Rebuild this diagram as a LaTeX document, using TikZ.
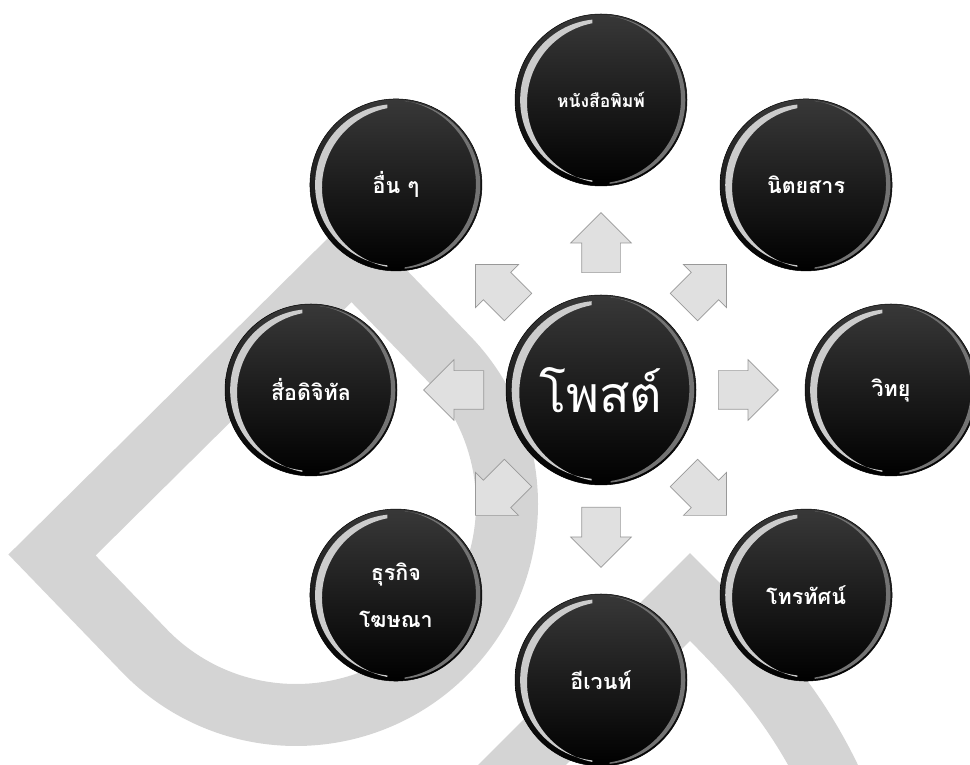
\documentclass[tikz,border=0pt]{standalone}
\usepackage{fontspec}
\newfontfamily\thaifont[Script=Thai]{Loma}
\usetikzlibrary{calc,shapes.arrows}

\begin{document}
\begin{tikzpicture}[x=1pt,y=1pt]

% --------------------
% Parameters (tweak these)
% --------------------
\def\ringR{290}   % distance centre -> outer bubbles
\def\bubR{86}     % outer bubble radius
\def\postR{95}    % centre bubble radius
\def\arrIn{117}   % where the block arrows start
\def\bandW{62}    % width of the grey background band

\tikzset{
  wmband/.style={draw=black!17, line width=\bandW, line join=miter},
  blockarrow/.style={single arrow, draw=black!40, fill=black!12, line width=0.7pt,
    minimum height=60, single arrow head extend=11, inner xsep=0pt, inner ysep=19pt},
  bubble/.style={circle, inner sep=0pt, minimum size=2*#1,
    top color=black!78, bottom color=black, draw=black, line width=0.5pt,
    text=white, align=center, font=\thaifont\bfseries\fontsize{21.5}{26}\selectfont,
    path picture={
      \coordinate (o) at (path picture bounding box.center);
      \begin{scope}
        \clip ($(o)+(-#1,-#1)$) rectangle ($(o)+(-0.1*#1,#1)$);
        \fill[white!80!black, even odd rule]
          (o) circle[radius=0.94*#1] ($(o)+(0.08*#1,-0.03*#1)$) circle[radius=0.94*#1];
      \end{scope}
      \begin{scope}
        \clip ($(o)+(0.1*#1,-#1)$) rectangle ($(o)+(#1,#1)$);
        \fill[black!55, even odd rule]
          (o) circle[radius=0.98*#1] ($(o)+(-0.05*#1,0.01*#1)$) circle[radius=0.98*#1];
      \end{scope}
    }}
}

\useasboundingbox (0,0) rectangle (970,765);
\clip (0,0) rectangle (970,765);

% --------------------
% Grey background band (rotated D and a caret)
% --------------------
\coordinate (dT) at (352,507);
\coordinate (dL) at (52,210);
\coordinate (dC) at (296,261);
\draw[wmband] (dT) -- (dL) -- ($(dC)+(225:211)$) arc[start angle=225, end angle=405, radius=211] -- cycle;

\draw[wmband] (482,-40) -- (690,168) .. controls (745,113) and (800,60) .. (842,-40);

% --------------------
% Centre bubble
% --------------------
\node[bubble=\postR, font=\thaifont\fontsize{50}{60}\selectfont] (post) at (601,375) {โพสต์};

% --------------------
% Block arrows (centre -> outside)
% --------------------
\node[blockarrow, rotate=90, anchor=tail]  (toPaper)    at ($(post)+(90:\arrIn)$)  {};
\node[blockarrow, rotate=45, anchor=tail]  (toMagazine) at ($(post)+(45:\arrIn)$)  {};
\node[blockarrow, rotate=0, anchor=tail]   (toRadio)    at ($(post)+(0:\arrIn)$)   {};
\node[blockarrow, rotate=-45, anchor=tail] (toTv)       at ($(post)+(-45:\arrIn)$) {};
\node[blockarrow, rotate=-90, anchor=tail] (toEvent)    at ($(post)+(-90:\arrIn)$) {};
\node[blockarrow, rotate=225, anchor=tail] (toAdvert)   at ($(post)+(225:\arrIn)$) {};
\node[blockarrow, rotate=180, anchor=tail] (toDigital)  at ($(post)+(180:\arrIn)$) {};
\node[blockarrow, rotate=135, anchor=tail] (toOther)    at ($(post)+(135:\arrIn)$) {};

% --------------------
% Outer bubbles
% --------------------
\node[bubble=\bubR, font=\thaifont\bfseries\fontsize{17.5}{22}\selectfont] (paper) at ($(post)+(90:\ringR)$) {หนังสือพิมพ์};
\node[bubble=\bubR] (magazine) at ($(post)+(45:\ringR)$)  {นิตยสาร};
\node[bubble=\bubR] (radio)    at ($(post)+(0:\ringR)$)   {วิทยุ};
\node[bubble=\bubR] (tv)       at ($(post)+(-45:\ringR)$) {โทรทัศน์};
\node[bubble=\bubR] (event)    at ($(post)+(-90:\ringR)$) {อีเวนท์};
\node[bubble=\bubR, font=\thaifont\bfseries\fontsize{21.5}{47}\selectfont] (advert) at ($(post)+(225:\ringR)$) {ธุรกิจ\\โฆษณา};
\node[bubble=\bubR] (digital)  at ($(post)+(180:\ringR)$) {สื่อดิจิทัล};
\node[bubble=\bubR] (other)    at ($(post)+(135:\ringR)$) {อื่น ๆ};

\end{tikzpicture}
\end{document}
